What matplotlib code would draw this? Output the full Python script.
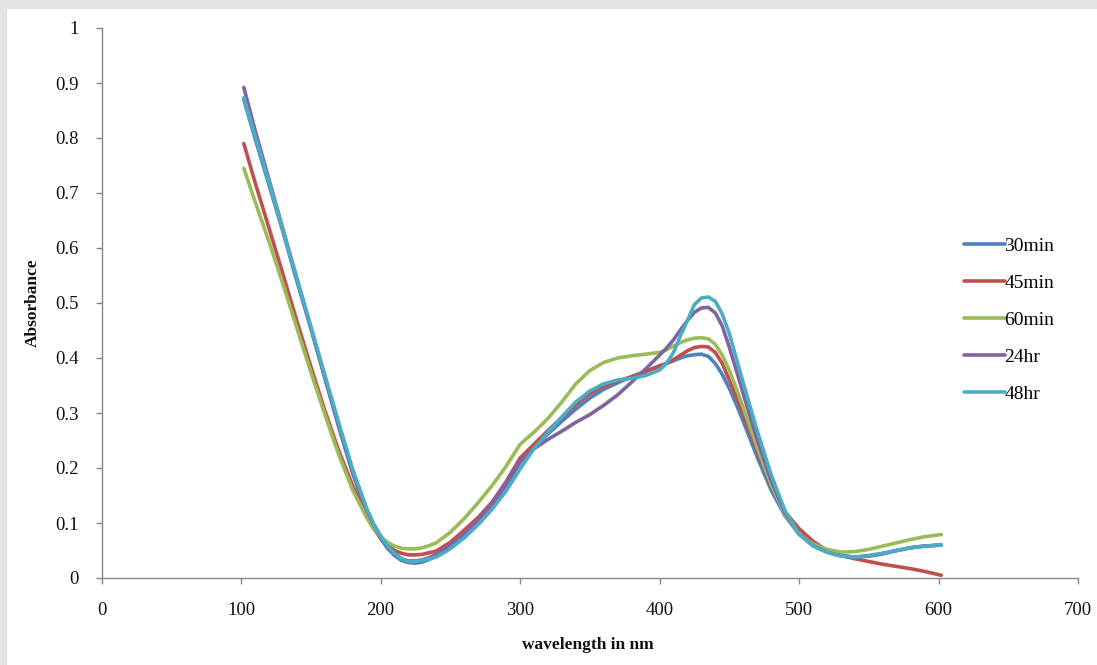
import matplotlib
matplotlib.use("Agg")
import matplotlib.pyplot as plt
from matplotlib.patches import Rectangle
from matplotlib.ticker import MultipleLocator, FuncFormatter

# wavelength grid (nm), finer around the valley and the 430 nm band
wavelength = [102, 110, 120, 130, 140, 150, 160, 170, 180,
              190, 195, 200, 205, 210, 215, 220, 225, 230, 235, 240,
              250, 260, 270, 280, 290, 300, 310, 320, 330, 340, 350, 360, 370, 380, 390,
              400, 405, 410, 415, 420, 425, 430, 435, 440, 445, 450, 455, 460,
              470, 480, 490, 500, 510, 520, 530, 540, 550, 560, 570, 580, 590,
              602]

abs_30min = [0.870, 0.800, 0.715, 0.630, 0.540, 0.455, 0.365, 0.275, 0.190,
             0.120, 0.093, 0.072, 0.054, 0.041, 0.032, 0.028, 0.027, 0.029, 0.034, 0.040,
             0.056, 0.076, 0.100, 0.130, 0.168, 0.210, 0.238, 0.262, 0.285, 0.307, 0.327, 0.343, 0.355, 0.366, 0.376,
             0.386, 0.390, 0.395, 0.400, 0.404, 0.406, 0.407, 0.403, 0.390, 0.370, 0.345, 0.316, 0.285,
             0.220, 0.160, 0.113, 0.080, 0.060, 0.048, 0.041, 0.038, 0.040, 0.044, 0.050, 0.055, 0.058,
             0.060]

abs_45min = [0.790, 0.720, 0.637, 0.553, 0.468, 0.385, 0.305, 0.232, 0.168,
             0.113, 0.090, 0.073, 0.060, 0.050, 0.045, 0.042, 0.042, 0.043, 0.046, 0.049,
             0.065, 0.087, 0.110, 0.138, 0.175, 0.218, 0.243, 0.268, 0.292, 0.315, 0.335, 0.349, 0.358, 0.366, 0.375,
             0.385, 0.390, 0.397, 0.405, 0.413, 0.419, 0.421, 0.420, 0.410, 0.390, 0.360, 0.330, 0.298,
             0.232, 0.170, 0.120, 0.090, 0.067, 0.050, 0.041, 0.035, 0.030, 0.025, 0.021, 0.017, 0.012,
             0.005]

abs_60min = [0.745, 0.685, 0.612, 0.535, 0.455, 0.375, 0.298, 0.225, 0.160,
             0.110, 0.090, 0.075, 0.065, 0.058, 0.054, 0.053, 0.053, 0.055, 0.059, 0.064,
             0.083, 0.108, 0.137, 0.168, 0.203, 0.243, 0.265, 0.290, 0.320, 0.353, 0.377, 0.392, 0.400, 0.404, 0.407,
             0.410, 0.415, 0.422, 0.428, 0.433, 0.436, 0.437, 0.435, 0.425, 0.405, 0.378, 0.345, 0.310,
             0.238, 0.170, 0.115, 0.080, 0.062, 0.052, 0.047, 0.048, 0.052, 0.058, 0.064, 0.070, 0.075,
             0.079]

abs_24hr = [0.892, 0.815, 0.725, 0.635, 0.545, 0.455, 0.365, 0.278, 0.195,
            0.125, 0.097, 0.076, 0.057, 0.044, 0.035, 0.031, 0.031, 0.033, 0.037, 0.043,
            0.060, 0.080, 0.105, 0.135, 0.172, 0.212, 0.235, 0.252, 0.267, 0.283, 0.297, 0.314, 0.333, 0.356, 0.380,
            0.405, 0.418, 0.433, 0.451, 0.468, 0.483, 0.491, 0.492, 0.482, 0.458, 0.420, 0.378, 0.335,
            0.252, 0.178, 0.118, 0.080, 0.059, 0.047, 0.040, 0.038, 0.040, 0.044, 0.050, 0.055, 0.058,
            0.060]

abs_48hr = [0.873, 0.805, 0.720, 0.632, 0.545, 0.458, 0.370, 0.283, 0.198,
            0.127, 0.099, 0.077, 0.058, 0.045, 0.035, 0.030, 0.030, 0.032, 0.035, 0.038,
            0.053, 0.073, 0.097, 0.125, 0.158, 0.198, 0.235, 0.265, 0.293, 0.320, 0.340, 0.353, 0.360, 0.363, 0.368,
            0.378, 0.390, 0.410, 0.440, 0.468, 0.497, 0.509, 0.511, 0.503, 0.480, 0.445, 0.400, 0.355,
            0.268, 0.188, 0.122, 0.080, 0.058, 0.047, 0.040, 0.038, 0.041, 0.045, 0.050, 0.055, 0.058,
            0.060]

labels = ["30min", "45min", "60min", "24hr", "48hr"]
colors = ["#4F81BD", "#C0504D", "#9BBB59", "#8064A2", "#4BACC6"]

plt.rcParams['font.family'] = ['Liberation Serif', 'DejaVu Serif']

fig = plt.figure(figsize=(10.97, 6.65), dpi=100)
# light grey frame strips along the top and left edges
fig.patches.append(Rectangle((0, 1 - 8 / 665), 1, 8 / 665, transform=fig.transFigure,
                             color="#e4e4e4", zorder=0))
fig.patches.append(Rectangle((0, 0), 6 / 1097, 1, transform=fig.transFigure,
                             color="#e4e4e4", zorder=0))

ax = fig.add_axes([101.5 / 1097, 87 / 665, 976.5 / 1097, 550 / 665])
ax.patch.set_alpha(0)

series = [abs_30min, abs_45min, abs_60min, abs_24hr, abs_48hr]
for vals, lab, col in zip(series, labels, colors):
    ax.plot(wavelength, vals, color=col, lw=2.6, label=lab,
            solid_capstyle='round', solid_joinstyle='round')

ax.set_xlim(0, 700)
ax.set_ylim(0, 1)
ax.xaxis.set_major_locator(MultipleLocator(100))
ax.yaxis.set_major_locator(MultipleLocator(0.1))
ax.yaxis.set_major_formatter(FuncFormatter(lambda v, p: "%g" % round(v, 1)))

for side in ["top", "right"]:
    ax.spines[side].set_visible(False)
for side in ["left", "bottom"]:
    ax.spines[side].set_color("#868686")
    ax.spines[side].set_linewidth(1.0)

ax.tick_params(axis='x', direction='out', length=4.5, width=1.0, color="#868686",
               labelsize=13.5, pad=13, labelcolor="#111111")
ax.tick_params(axis='y', direction='out', length=4.5, width=1.0, color="#868686",
               labelsize=13.5, pad=12, labelcolor="#111111")

fig.text(588 / 1097, 1 - 645 / 665, "wavelength in nm", ha='center', va='center',
         fontsize=12.5, fontweight='bold', color="#111111")
fig.text(33 / 1097, 1 - 303 / 665, "Absorbance", ha='center', va='center',
         rotation=90, fontsize=12.5, fontweight='bold', color="#111111")

ax.legend(loc='center left', bbox_to_anchor=(954 / 1097, 1 - 320 / 665),
          bbox_transform=fig.transFigure, frameon=False, fontsize=14,
          handlelength=2.1, handletextpad=0.0, labelspacing=1.0, borderpad=0)

fig.savefig("out.png", dpi=100)
